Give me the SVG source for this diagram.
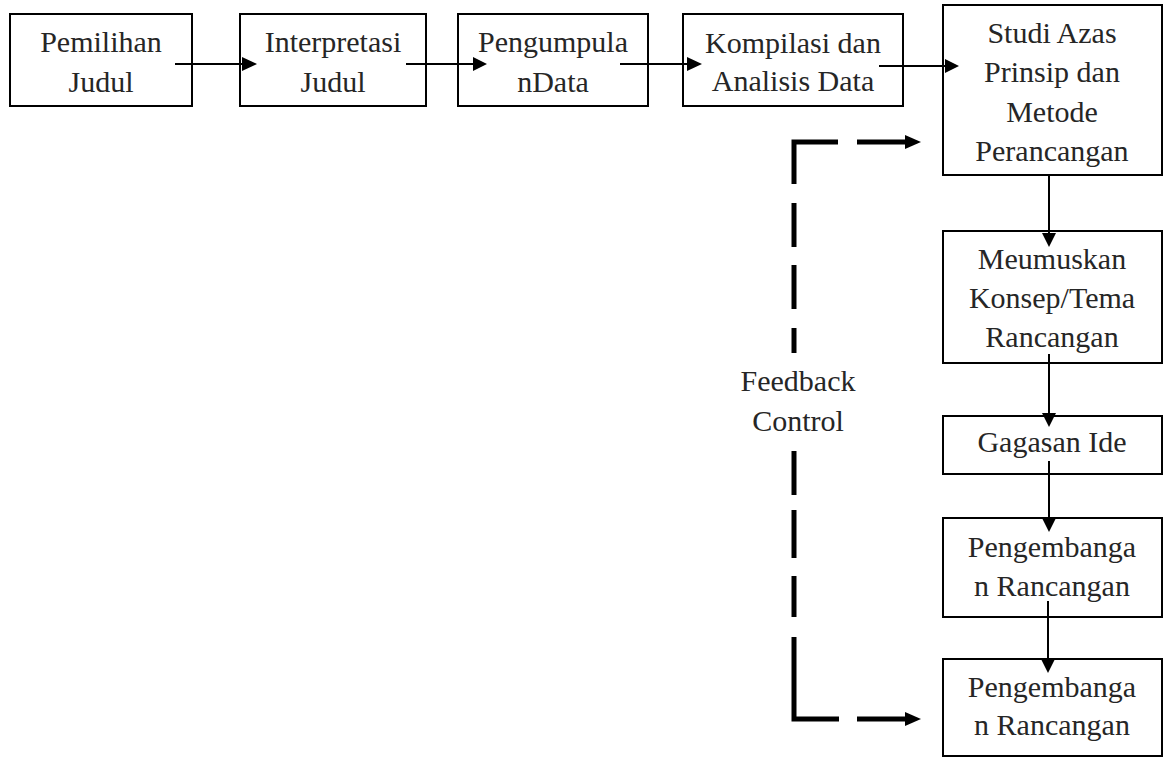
<svg xmlns="http://www.w3.org/2000/svg" width="1167" height="758" viewBox="0 0 1167 758">
<style>
.box{fill:#fff;stroke:#000;stroke-width:2}
.t{font-family:"Liberation Serif","Times New Roman",serif;font-size:30px;fill:#262626;text-anchor:middle}
.ln{stroke:#000;stroke-width:2;fill:none}
.dash{stroke:#000;stroke-width:5;fill:none;stroke-linecap:butt}
.ah{fill:#000}
</style>
<rect width="1167" height="758" fill="#fff"/>
<g id="n1"><rect class="box" x="10" y="14" width="182" height="92"/><text class="t" x="101" y="52">Pemilihan</text><text class="t" x="101" y="92">Judul</text></g>
<g id="n2"><rect class="box" x="240" y="14" width="186" height="92"/><text class="t" x="333" y="52">Interpretasi</text><text class="t" x="333" y="92">Judul</text></g>
<g id="n3"><rect class="box" x="458" y="14" width="190" height="92"/><text class="t" x="553" y="52">Pengumpula</text><text class="t" x="553" y="92">nData</text></g>
<g id="n4"><rect class="box" x="683" y="14" width="220" height="92"/><text class="t" x="793" y="53">Kompilasi dan</text><text class="t" x="793" y="91">Analisis Data</text></g>
<g id="n5"><rect class="box" x="943" y="5" width="219" height="170"/><text class="t" x="1052" y="43">Studi Azas</text><text class="t" x="1052" y="82">Prinsip dan</text><text class="t" x="1052" y="122">Metode</text><text class="t" x="1052" y="161">Perancangan</text></g>
<g id="n6"><rect class="box" x="943" y="231" width="219" height="132"/><text class="t" x="1052" y="269">Meumuskan</text><text class="t" x="1052" y="308">Konsep/Tema</text><text class="t" x="1052" y="347">Rancangan</text></g>
<g id="n7"><rect class="box" x="943" y="416" width="219" height="58"/><text class="t" x="1052" y="452">Gagasan Ide</text></g>
<g id="n8"><rect class="box" x="943" y="518" width="219" height="99"/><text class="t" x="1052" y="557">Pengembanga</text><text class="t" x="1052" y="596">n Rancangan</text></g>
<g id="n9"><rect class="box" x="943" y="659" width="219" height="97"/><text class="t" x="1052" y="697">Pengembanga</text><text class="t" x="1052" y="735">n Rancangan</text></g>
<g id="connectors">
<line class="ln" x1="175" y1="64" x2="243" y2="64"/><polygon class="ah" points="242,57 257,64 242,71"/>
<line class="ln" x1="406" y1="64" x2="474" y2="64"/><polygon class="ah" points="473,57 487,64 473,71"/>
<line class="ln" x1="620" y1="64" x2="688" y2="64"/><polygon class="ah" points="687,57 702,64 687,71"/>
<line class="ln" x1="879" y1="66" x2="946" y2="66"/><polygon class="ah" points="945,59 959,66 945,73"/>
<line class="ln" x1="1049" y1="175" x2="1049" y2="234"/><polygon class="ah" points="1042,233 1056,233 1049,247"/>
<line class="ln" x1="1049" y1="354" x2="1049" y2="414"/><polygon class="ah" points="1042,413 1056,413 1049,427"/>
<line class="ln" x1="1049" y1="461" x2="1049" y2="519"/><polygon class="ah" points="1042,518 1056,518 1049,532"/>
<line class="ln" x1="1048" y1="601" x2="1048" y2="660" stroke-width="1.2"/><polygon class="ah" points="1041,659 1055,659 1048,673"/>
<path class="dash" d="M838 142 H794 V184"/>
<line class="dash" x1="857" y1="142" x2="906" y2="142"/><polygon class="ah" points="905,135 921,142 905,149"/>
<line class="dash" x1="794" y1="203" x2="794" y2="247"/>
<line class="dash" x1="794" y1="265" x2="794" y2="309"/>
<line class="dash" x1="794" y1="328" x2="794" y2="353"/>
<line class="dash" x1="794" y1="451" x2="794" y2="495"/>
<line class="dash" x1="794" y1="510" x2="794" y2="558"/>
<line class="dash" x1="794" y1="576" x2="794" y2="617"/>
<path class="dash" d="M794 637 V719 H839"/>
<line class="dash" x1="857" y1="719" x2="906" y2="719"/><polygon class="ah" points="905,712 921,719 905,726"/>
</g>
<g id="label"><text class="t" x="798" y="391">Feedback</text><text class="t" x="798" y="431">Control</text></g>
</svg>
